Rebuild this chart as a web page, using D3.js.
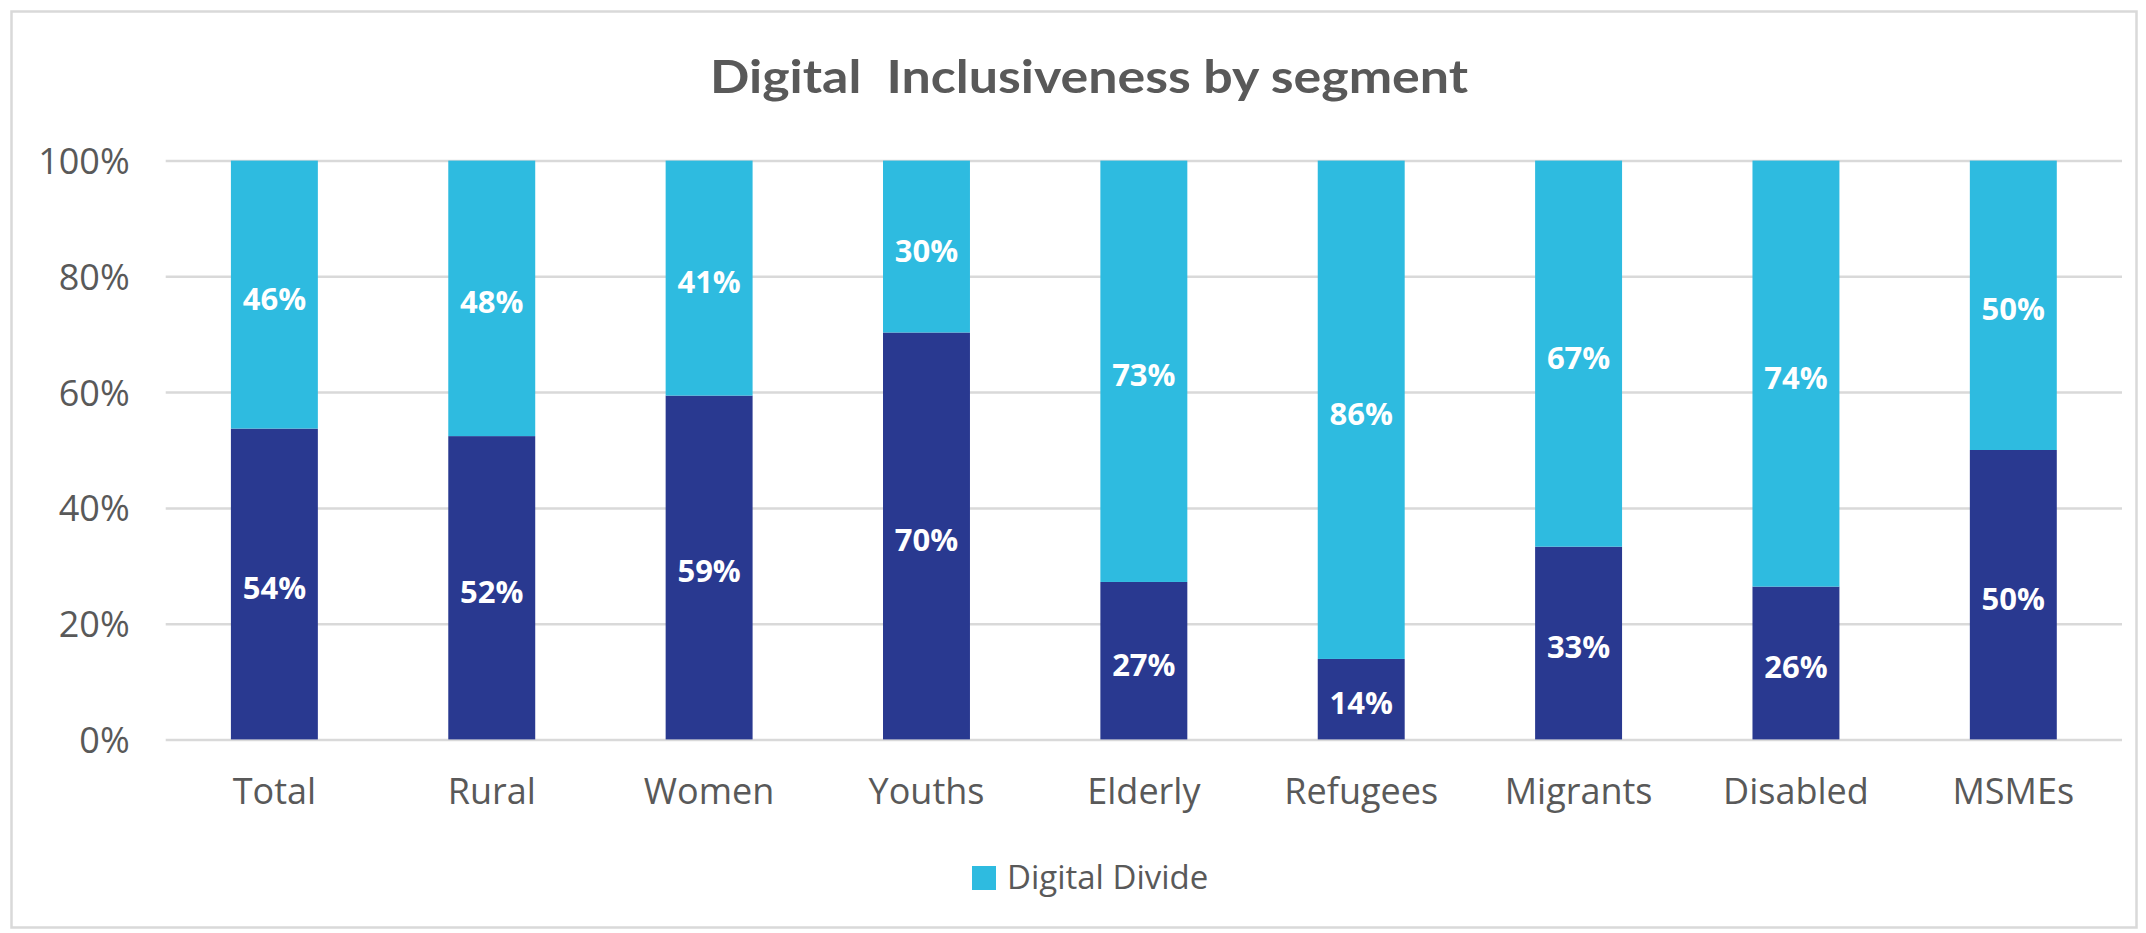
<!DOCTYPE html>
<html>
<head>
<meta charset="utf-8">
<script src="https://cdn.jsdelivr.net/npm/d3@7"></script>
<style>
  html, body { margin: 0; padding: 0; background: #ffffff; }
  svg { display: block; }
</style>
</head>
<body>
<svg id="chart" width="2146" height="933"></svg>
<script>
// ---- Data ----
const categories = ["Total", "Rural", "Women", "Youths", "Elderly", "Refugees", "Migrants", "Disabled", "MSMEs"];
const inclusionValues = [0.537, 0.524, 0.594, 0.703, 0.272, 0.139, 0.333, 0.264, 0.500];
const divideValues    = [0.463, 0.476, 0.406, 0.297, 0.728, 0.861, 0.667, 0.736, 0.500];
const yTicks = [0, 0.2, 0.4, 0.6, 0.8, 1.0];
const titleText = "Digital  Inclusiveness by segment";
const legendLabel = "Digital Divide";

// ---- Styles ----
const darkColor = "#293990";
const lightColor = "#2ebbe0";
const textColor = "#595959";
const gridColor = "#d9d9d9";
const font = "'Open Sans', sans-serif";

const svg = d3.select("#chart");
const W = 2146, H = 933;
const plot = { left: 165.7, right: 2122, top: 160.6, bottom: 739.4 };

// chart border
svg.append("rect")
  .attr("x", 11.5).attr("y", 11.5)
  .attr("width", 2125).attr("height", 916)
  .attr("fill", "#ffffff")
  .attr("stroke", gridColor).attr("stroke-width", 2.5);

const x = d3.scaleBand()
  .domain(categories)
  .range([plot.left, plot.right])
  .paddingInner(0.6)
  .paddingOuter(0.3);

const y = d3.scaleLinear().domain([0, 1]).range([plot.bottom, plot.top]);

// gridlines + y tick labels
const yAxis = d3.axisLeft(y)
  .tickValues(yTicks)
  .tickFormat(d3.format(".0%"))
  .tickSize(-(plot.right - plot.left))
  .tickPadding(36);

const gy = svg.append("g")
  .attr("transform", `translate(${plot.left},0)`)
  .call(yAxis);
gy.select(".domain").remove();
gy.selectAll(".tick line").attr("stroke", gridColor).attr("stroke-width", 2.5);
gy.selectAll(".tick text")
  .attr("fill", textColor)
  .style("font-family", font)
  .style("font-size", "36px")
  .attr("dy", "0.36em");

// stacked data
const rows = categories.map((c, i) => ({ cat: c, inclusion: inclusionValues[i], divide: divideValues[i] }));
const stack = d3.stack().keys(["inclusion", "divide"]);
const series = stack(rows);
const colors = { inclusion: darkColor, divide: lightColor };

const bw = x.bandwidth();
const groups = svg.append("g").selectAll("g")
  .data(series).join("g")
  .attr("fill", d => colors[d.key]);

groups.selectAll("rect")
  .data(d => d).join("rect")
  .attr("x", d => x(d.data.cat))
  .attr("y", d => y(d[1]))
  .attr("width", bw)
  .attr("height", d => y(d[0]) - y(d[1]));

// data labels
const fmt = d3.format(".0%");
const labelG = svg.append("g");
series.forEach(s => {
  labelG.selectAll(null)
    .data(s).join("text")
    .attr("x", d => x(d.data.cat) + bw / 2)
    .attr("y", d => (y(d[0]) + y(d[1])) / 2 + 15)
    .attr("text-anchor", "middle")
    .attr("fill", "#ffffff")
    .style("font-family", font)
    .style("font-weight", "700")
    .style("font-size", "31px")
    .text(d => fmt(d[1] - d[0]));
});

// x axis labels
const xAxis = d3.axisBottom(x).tickSize(0).tickPadding(0);
const gx = svg.append("g")
  .attr("transform", `translate(0,${plot.bottom})`)
  .call(xAxis);
gx.select(".domain").remove();
gx.selectAll(".tick text")
  .attr("fill", textColor)
  .style("font-family", font)
  .style("font-size", "36px")
  .attr("y", 0)
  .attr("dy", 0)
  .attr("transform", "translate(0,64.6)");

// title
svg.append("text")
  .attr("x", 1089)
  .attr("y", 93.3)
  .attr("text-anchor", "middle")
  .attr("fill", textColor)
  .style("font-family", "Lato, 'Open Sans', sans-serif")
  .style("font-weight", "700")
  .style("font-size", "45px")
  .style("white-space", "pre")
  .attr("textLength", 758)
  .attr("lengthAdjust", "spacingAndGlyphs")
  .text(titleText);

// legend
const lg = svg.append("g");
lg.append("rect")
  .attr("x", 972).attr("y", 866)
  .attr("width", 24).attr("height", 24)
  .attr("fill", lightColor);
lg.append("text")
  .attr("x", 1007)
  .attr("y", 889)
  .attr("fill", textColor)
  .style("font-family", font)
  .style("font-size", "33px")
  .text(legendLabel);
</script>
</body>
</html>
